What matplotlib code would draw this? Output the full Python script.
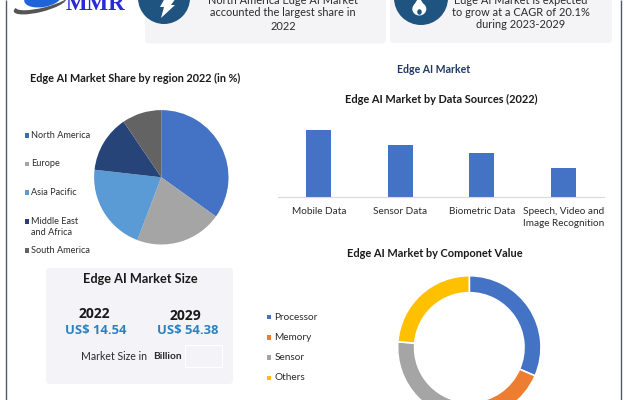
import matplotlib
matplotlib.use("Agg")
import matplotlib.pyplot as plt
from matplotlib.patches import FancyBboxPatch, Rectangle, Circle, Ellipse, Polygon

W, H = 626, 400
FONT = "Lato"
plt.rcParams["font.family"] = [FONT, "DejaVu Sans"]

region_names = ["North America", "Europe", "Asia Pacific", "Middle East\nand Africa", "South America"]
region_share = [34.9, 20.9, 21.0, 13.7, 9.5]
region_colors = ["#4472C4", "#A5A5A5", "#5B9BD5", "#264478", "#636363"]
region_legend_colors = ["#3A70A8", "#A5A5A5", "#5B9BD5", "#2A3F78", "#636363"]

source_names = ["Mobile Data", "Sensor Data", "Biometric Data", "Speech, Video and\nImage Recognition"]
source_values = [40, 31, 26.5, 17.5]

component_names = ["Processor", "Memory", "Sensor", "Others"]
component_values = [31.5, 18, 26.75, 23.75]
component_colors = ["#4472C4", "#ED7D31", "#A5A5A5", "#FFC000"]

size_years = ["2022", "2029"]
size_values = ["US$ 14.54", "US$ 54.38"]

fig = plt.figure(figsize=(W / 100, H / 100), dpi=100, facecolor="white")
bg = fig.add_axes([0, 0, 1, 1], zorder=0)
bg.set_xlim(0, W)
bg.set_ylim(H, 0)
bg.axis("off")


def txt(x, y, s, size=7, weight="normal", color="#2b2b2b", ha="center", **kw):
    bg.text(x, y, s, fontsize=size, fontweight=weight, color=color, ha=ha, va="center", **kw)


def card(x0, y0, x1, y1, color):
    bg.add_patch(FancyBboxPatch((x0 + 4, y0 + 4), x1 - x0 - 8, y1 - y0 - 8,
                                boxstyle="round,pad=4,rounding_size=4", fc=color, ec="none"))


def px_axes(x0, y0, x1, y1, z=2):
    return fig.add_axes([x0 / W, 1 - y1 / H, (x1 - x0) / W, (y1 - y0) / H], zorder=z)


# frame
for xf in (5.7, 620.8):
    bg.plot([xf, xf], [0, H], color="#50596a", lw=1.0, solid_capstyle="butt")

# header cards
card(145, -10, 386, 43.5, "#F4F4F7")
card(390, -10, 612, 43, "#F4F4F7")
bg.add_patch(Circle((164, -2), 26, fc="#1F5380", ec="none"))
bg.add_patch(Circle((421, -2), 27, fc="#1F5380", ec="none"))
bg.add_patch(Polygon([(165, -2), (176, -2), (171, 5), (175, 5), (161, 18), (164, 7), (160, 7)], fc="white", ec="none"))
bg.add_patch(Ellipse((419.3, 9), 14, 13, fc="white", ec="none"))
bg.add_patch(Polygon([(414, 5), (419, -3), (424, 5)], fc="white", ec="none"))
bg.add_patch(Ellipse((419.5, 12), 4.5, 5.5, fc="#1F5380", ec="none"))

for y, s in zip([0.5, 13, 26], ["North America Edge AI Market", "accounted the largest share in", "2022"]):
    txt(283, y, s, 7.9)
for y, s in zip([0, 12.7, 25], ["Edge AI Market is expected", "to grow at a CAGR of 20.1%", "during 2023-2029"]):
    txt(521, y, s, 7.9)

# logo
bg.add_patch(Ellipse((40, 5), 54, 14, angle=-14, fc="#555555", ec="none"))
bg.add_patch(Ellipse((43, 1), 56, 13, angle=-14, fc="white", ec="none"))
bg.add_patch(Ellipse((43, -2), 38, 18, angle=-10, fc="#1E63D8", ec="none"))
bg.text(95, 10, "MMR", fontsize=16.5, fontweight="bold", color="#2A2AD8", family="Liberation Serif",
        ha="center", va="baseline")

# region pie
cx, cy, r = 161.3, 177.3, 67.2
ax = px_axes(cx - 1.1 * r, cy - 1.1 * r, cx + 1.1 * r, cy + 1.1 * r)
ax.pie(region_share, colors=region_colors, startangle=90, counterclock=False, radius=1)
ax.set_xlim(-1.1, 1.1)
ax.set_ylim(-1.1, 1.1)
ax.patch.set_alpha(0)

txt(135.5, 78.3, "Edge AI Market Share by region 2022 (in %)", 7.8, "bold", "#1a1a1a")
for col, ys in zip(region_legend_colors, [135.3, 164, 192.7, 221.7, 250.3]):
    bg.add_patch(Rectangle((24.5, ys - 2.3), 4.6, 4.6, fc=col, ec="none"))
for name, ys in zip(region_names, [135.3, 164, 192.7, 227, 250.3]):
    txt(31, ys, name, 6.55, ha="left", linespacing=1.15)

# market size card
card(46, 268, 233, 384, "#F4F4F8")
bg.add_patch(Rectangle((185, 345), 37, 22, fc="none", ec="white", lw=0.8))
txt(140, 279, "Edge AI Market Size", 9.2, "bold", "#1a1a1a")
for year, val, xc, yy, xv in zip(size_years, size_values, [94, 185], [314, 316], [95.5, 187.5]):
    bg.text(xc, yy, year, fontsize=10, fontweight="bold", color="#1a1a1a", family="Open Sans", ha="center", va="center")
    bg.text(xv, 330, val, fontsize=9.4, fontweight="bold", color="#2A82C0", family="Open Sans", ha="center", va="center")
bg.text(81, 356.7, "Market Size in ", fontsize=7.6, color="#2b2b2b", ha="left", va="center")
txt(153, 356.7, "Billion", 7.3, "bold", ha="left")

# bar chart
txt(434, 69.3, "Edge AI Market", 7.6, "bold", "#1F3864")
txt(441, 99, "Edge AI Market by Data Sources (2022)", 7.9, "bold", "#1a1a1a")
bx = px_axes(278, 122, 604, 197)
bx.bar(range(len(source_values)), source_values, width=0.31, color="#4472C4")
bx.set_xlim(-0.5, 3.5)
bx.set_ylim(0, 45)
bx.set_yticks([])
bx.set_xticks(range(len(source_names)))
bx.set_xticklabels(source_names, fontsize=7.2, color="#2b2b2b", linespacing=1.4)
bx.tick_params(axis="x", length=0, pad=7.5)
for s in ("top", "left", "right"):
    bx.spines[s].set_visible(False)
bx.spines["bottom"].set_color("#D9D9D9")
bx.spines["bottom"].set_linewidth(0.8)
bx.patch.set_alpha(0)

# donut
txt(434.7, 253.7, "Edge AI Market by Componet Value", 7.9, "bold", "#1a1a1a")
dx, dy, dr = 469.3, 347.4, 71.7
dax = px_axes(dx - 1.1 * dr, dy - 1.1 * dr, dx + 1.1 * dr, dy + 1.1 * dr)
dax.pie(component_values, colors=component_colors, startangle=90, counterclock=False, radius=1,
        wedgeprops=dict(width=17 / dr, edgecolor="white", linewidth=1.2))
dax.set_xlim(-1.1, 1.1)
dax.set_ylim(-1.1, 1.1)
dax.patch.set_alpha(0)
for name, col, ys in zip(component_names, component_colors, [317, 337.3, 357.3, 377.7]):
    bg.add_patch(Rectangle((266.8, ys - 2.2), 4.5, 4.4, fc=col, ec="none"))
    txt(274.5, ys, name, 7.2, ha="left")

fig.savefig("out.png", dpi=100)
